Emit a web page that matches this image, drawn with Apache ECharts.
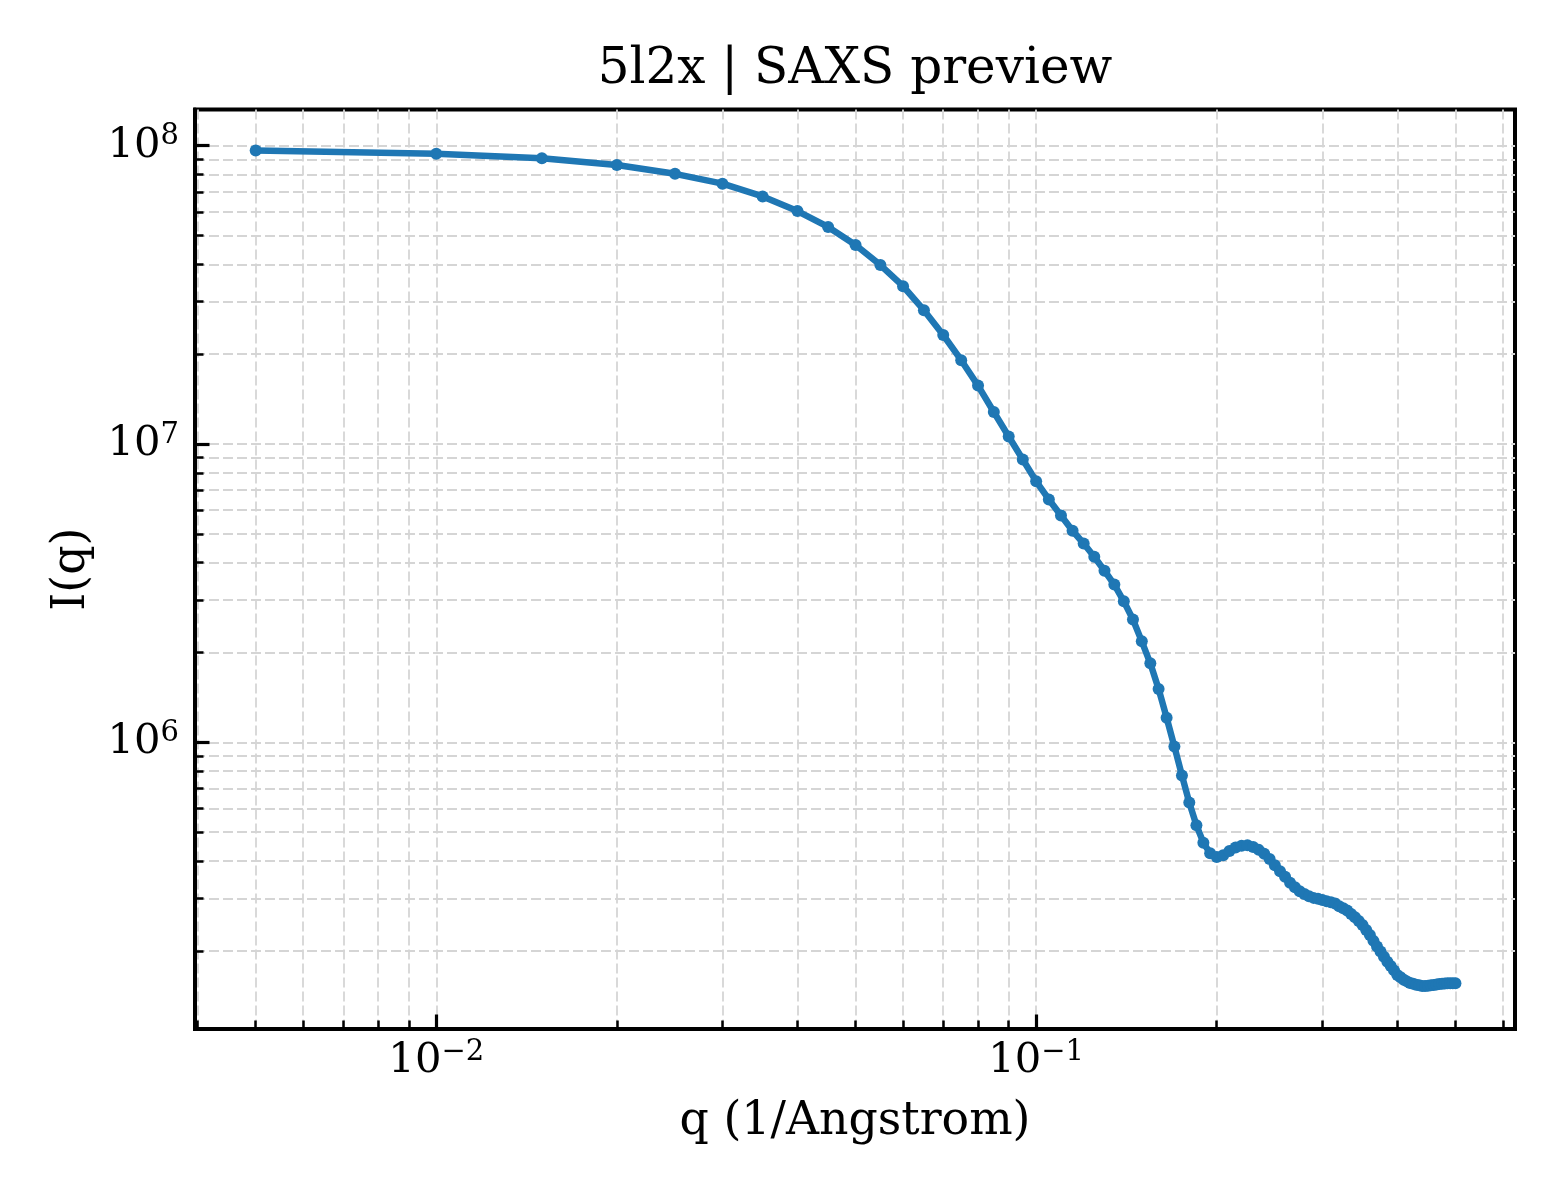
<!DOCTYPE html>
<html>
<head>
<meta charset="utf-8">
<title>5l2x | SAXS preview</title>
<script src="https://cdn.jsdelivr.net/npm/echarts@6/dist/echarts.min.js"></script>
<style>
  html, body { margin: 0; padding: 0; background: #fff; }
  #chart { width: 1560px; height: 1200px; }
</style>
</head>
<body>
<div id="chart"></div>
<script>
// scattering vector q (1/Angstrom)
const q = [
  0.005, 0.010, 0.015, 0.020, 0.025, 0.030, 0.035, 0.040, 0.045, 0.050,
  0.055, 0.060, 0.065, 0.070, 0.075, 0.080, 0.085, 0.090, 0.095, 0.100,
  0.105, 0.110, 0.115, 0.120, 0.125, 0.130, 0.135, 0.140, 0.145, 0.150,
  0.155, 0.160, 0.165, 0.170, 0.175, 0.180, 0.185, 0.190, 0.195, 0.200,
  0.205, 0.210, 0.215, 0.220, 0.225, 0.230, 0.235, 0.240, 0.245, 0.250,
  0.255, 0.260, 0.265, 0.270, 0.275, 0.280, 0.285, 0.290, 0.295, 0.300,
  0.305, 0.310, 0.315, 0.320, 0.325, 0.330, 0.335, 0.340, 0.345, 0.350,
  0.355, 0.360, 0.365, 0.370, 0.375, 0.380, 0.385, 0.390, 0.395, 0.400,
  0.405, 0.410, 0.415, 0.420, 0.425, 0.430, 0.435, 0.440, 0.445, 0.450,
  0.455, 0.460, 0.465, 0.470, 0.475, 0.480, 0.485, 0.490, 0.495, 0.500
];

// intensity I(q)
const intensity = [
  9.64e7, 9.40e7, 9.07e7, 8.62e7, 8.05e7, 7.46e7, 6.76e7, 6.04e7, 5.34e7, 4.65e7,
  3.98e7, 3.38e7, 2.81e7, 2.32e7, 1.91e7, 1.57e7, 1.28e7, 1.06e7, 8.87e6, 7.50e6,
  6.52e6, 5.76e6, 5.12e6, 4.64e6, 4.19e6, 3.76e6, 3.38e6, 2.97e6, 2.58e6, 2.18e6,
  1.84e6, 1.51e6, 1.21e6, 9.68e5, 7.74e5, 6.28e5, 5.27e5, 4.61e5, 4.25e5, 4.13e5,
  4.18e5, 4.32e5, 4.44e5, 4.50e5, 4.52e5, 4.46e5, 4.36e5, 4.23e5, 4.06e5, 3.87e5,
  3.70e5, 3.54e5, 3.38e5, 3.27e5, 3.17e5, 3.10e5, 3.05e5, 3.01e5, 2.99e5, 2.96e5,
  2.93e5, 2.91e5, 2.88e5, 2.82e5, 2.78e5, 2.73e5, 2.66e5, 2.59e5, 2.52e5, 2.44e5,
  2.35e5, 2.26e5, 2.16e5, 2.07e5, 1.99e5, 1.91e5, 1.84e5, 1.78e5, 1.72e5, 1.66e5,
  1.63e5, 1.60e5, 1.58e5, 1.56e5, 1.55e5, 1.54e5, 1.532e5, 1.526e5, 1.526e5, 1.528e5,
  1.532e5, 1.537e5, 1.543e5, 1.547e5, 1.55e5, 1.554e5, 1.558e5, 1.558e5, 1.558e5, 1.558e5
];

const xMajorTicks = [0.01, 0.1];
const xMinorTicks = [
  0.004, 0.005, 0.006, 0.007, 0.008, 0.009,
  0.02, 0.03, 0.04, 0.05, 0.06, 0.07, 0.08, 0.09,
  0.2, 0.3, 0.4, 0.5, 0.6
];
const yMajorTicks = [1e6, 1e7, 1e8];
const yMinorTicks = [
  2e5, 3e5, 4e5, 5e5, 6e5, 7e5, 8e5, 9e5,
  2e6, 3e6, 4e6, 5e6, 6e6, 7e6, 8e6, 9e6,
  2e7, 3e7, 4e7, 5e7, 6e7, 7e7, 8e7, 9e7
];

const X_MIN = 0.003961, X_MAX = 0.6284;
const Y_MIN = 1.094e5, Y_MAX = 1.3225e8;

const FONT = 'DejaVu Serif';
const gridLine = { show: true, lineStyle: { color: '#d5d5d5', width: 1.8, type: [10, 4] } };

function powerLabel(value) {
  const exp = Math.round(Math.log10(value));
  return '{b|10}{s|' + String(exp).replace('-', '\u2212') + '}';
}
const powerRich = {
  b: { fontFamily: FONT, fontSize: 41.7, color: '#000' },
  s: { fontFamily: FONT, fontSize: 29, color: '#000', padding: [0, 0, 18, 0] }
};

function majorAxis(pos, min, max, ticks) {
  return {
    type: 'log', logBase: 10, position: pos, min: min, max: max,
    axisLine: { show: true, onZero: false, lineStyle: { color: '#000', width: 4 } },
    axisTick: { show: true, inside: true, length: 14.5, lineStyle: { color: '#000', width: 3.2 }, customValues: ticks },
    axisLabel: { show: true, customValues: ticks, formatter: powerLabel, rich: powerRich, margin: pos === 'left' ? 16 : 9 },
    splitLine: gridLine,
    minorTick: { show: false }, minorSplitLine: { show: false }
  };
}
function minorAxis(pos, min, max, ticks) {
  return {
    type: 'log', logBase: 10, position: pos, min: min, max: max,
    axisLine: { show: false },
    axisTick: { show: true, inside: true, length: 8.5, lineStyle: { color: '#000', width: 2.5 }, customValues: ticks },
    axisLabel: { show: false },
    splitLine: gridLine
  };
}

const xBottom = majorAxis('bottom', X_MIN, X_MAX, xMajorTicks);
xBottom.name = 'q (1/Angstrom)';
xBottom.nameLocation = 'middle';
xBottom.nameGap = 70;
xBottom.nameTextStyle = { fontFamily: FONT, fontSize: 45.8, color: '#000' };

const yLeft = majorAxis('left', Y_MIN, Y_MAX, yMajorTicks);
yLeft.name = 'I(q)';
yLeft.nameLocation = 'middle';
yLeft.nameGap = 100;
yLeft.nameTextStyle = { fontFamily: FONT, fontSize: 45.8, color: '#000' };

const chart = echarts.init(document.getElementById('chart'), null, { renderer: 'canvas' });
chart.setOption({
  animation: false,
  backgroundColor: '#fff',
  title: {
    text: '5l2x | SAXS preview',
    left: 850, top: 40, textAlign: 'center',
    textStyle: { fontFamily: FONT, fontSize: 50, fontWeight: 'normal', color: '#000' }
  },
  grid: {
    left: 195, top: 109.5, right: 45, bottom: 171,
    show: true, borderColor: '#000', borderWidth: 4, backgroundColor: 'transparent'
  },
  xAxis: [xBottom, minorAxis('bottom', X_MIN, X_MAX, xMinorTicks)],
  yAxis: [yLeft, minorAxis('left', Y_MIN, Y_MAX, yMinorTicks)],
  series: [{
    type: 'line',
    xAxisIndex: 0, yAxisIndex: 0,
    data: q.map((v, i) => [v, intensity[i]]),
    symbol: 'circle', symbolSize: 12, showSymbol: true,
    lineStyle: { color: '#1f77b4', width: 6.5 },
    itemStyle: { color: '#1f77b4' },
    clip: true
  }]
});
</script>
</body>
</html>
